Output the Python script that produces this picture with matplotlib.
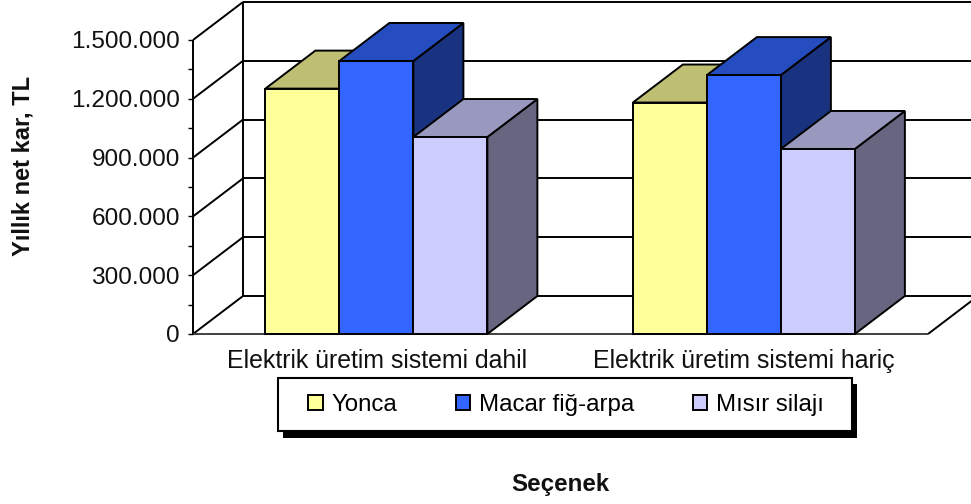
import matplotlib
matplotlib.use("Agg")
import matplotlib.pyplot as plt
from matplotlib.patches import Patch, Polygon, Rectangle

plt.rcParams['font.family'] = ['Liberation Sans', 'DejaVu Sans']

categories = ["Elektrik üretim sistemi dahil", "Elektrik üretim sistemi hariç"]
series = ["Yonca", "Macar fiğ-arpa", "Mısır silajı"]
yonca = [1252000, 1181000]
macar = [1393000, 1321000]
misir = [1005000, 944000]
y_ticks = [0, 300000, 600000, 900000, 1200000, 1500000]
y_minor = [150000, 450000, 750000, 1050000, 1350000]

front_colors = ["#FFFF99", "#3366FF", "#CCCCFF"]
top_colors = ["#BFBF73", "#264DBF", "#9999BF"]
side_colors = ["#808050", "#1A3380", "#666680"]

W, H = 971, 504
fig = plt.figure(figsize=(W / 100, H / 100), dpi=100)
ax = fig.add_axes([193 / W, 1 - 334 / H, 735 / W, 294 / H])
ax.set_xlim(-0.5, 1.5)
ax.set_ylim(0, 1500000)

# 3D offset of the back wall, in data units
dx = 50 / 735 * 2
dy = 38 / 294 * 1500000
bar_w = 74 / 735 * 2

for s in ax.spines.values():
    s.set_visible(False)
ax.patch.set_alpha(0)


def line(xs, ys, color="black", lw=1.4, z=1):
    ax.plot(xs, ys, color=color, lw=lw, zorder=z, clip_on=False, solid_capstyle="butt")


# back wall, side wall lines and floor
for v in y_ticks:
    line([-0.5, -0.5 + dx], [v, v + dy])
    line([-0.5 + dx, 1.5 + dx], [v + dy, v + dy])
line([-0.5 + dx, -0.5 + dx], [dy, 1500000 + dy])
line([-0.5, -0.5], [0, 1500000], z=1)
line([-0.5, 1.5], [0, 0], color="#404040")
line([1.5, 1.5 + dx], [0, dy])


def draw_bar(x0, v, i):
    x1 = x0 + bar_w
    front = [(x0, 0), (x1, 0), (x1, v), (x0, v)]
    top = [(x0, v), (x1, v), (x1 + dx, v + dy), (x0 + dx, v + dy)]
    side = [(x1, 0), (x1 + dx, dy), (x1 + dx, v + dy), (x1, v)]
    for pts, c in [(side, side_colors[i]), (top, top_colors[i]), (front, front_colors[i])]:
        ax.add_patch(Polygon(pts, closed=True, facecolor=c, edgecolor="black",
                             lw=1.4, zorder=2, clip_on=False, joinstyle="miter"))


for c in range(len(categories)):
    for i, vals in enumerate([yonca, macar, misir]):
        draw_bar(c - 1.5 * bar_w + i * bar_w - 0.001, vals[c], i)

ax.set_yticks(y_ticks)
ax.set_yticklabels([f"{v:,}".replace(",", ".") for v in y_ticks], fontsize=17.6, color="#111111")
ax.set_yticks(y_minor, minor=True)
ax.tick_params(axis="y", which="both", length=3.4, width=1.0, pad=6)
ax.set_xticks([0, 1])
ax.set_xticklabels(categories, fontsize=17.9, color="#111111")
ax.tick_params(axis="x", length=0, pad=10.5)

# legend box with hard shadow
def px_rect(x, y, w, h, **kw):
    return Rectangle((x / W, 1 - (y + h) / H), w / W, h / H, transform=fig.transFigure, **kw)


fig.add_artist(px_rect(283, 384, 574, 54, facecolor="black", edgecolor="none", zorder=3))
fig.add_artist(px_rect(278, 378, 574, 53, facecolor="white", edgecolor="black", lw=1.5, zorder=4))

handles = [Patch(facecolor=c, edgecolor="black", lw=1.4) for c in front_colors]
leg = fig.legend(handles, series, ncol=3, loc="center", bbox_to_anchor=(566 / W, 1 - 405 / H),
                 frameon=False, fontsize=17.3, handlelength=0.6, handleheight=0.6,
                 handletextpad=0.35, columnspacing=2.45)
leg.set_zorder(5)

fig.text(23 / W, 1 - 166 / H, "Yıllık net kar, TL", rotation=90, fontsize=17, fontweight="bold",
         ha="center", va="center", color="#111111")
fig.text(560 / W, 1 - 484 / H, "Seçenek", fontsize=17.4, fontweight="bold",
         ha="center", va="center", color="#111111")

fig.savefig("out.png", dpi=100)
